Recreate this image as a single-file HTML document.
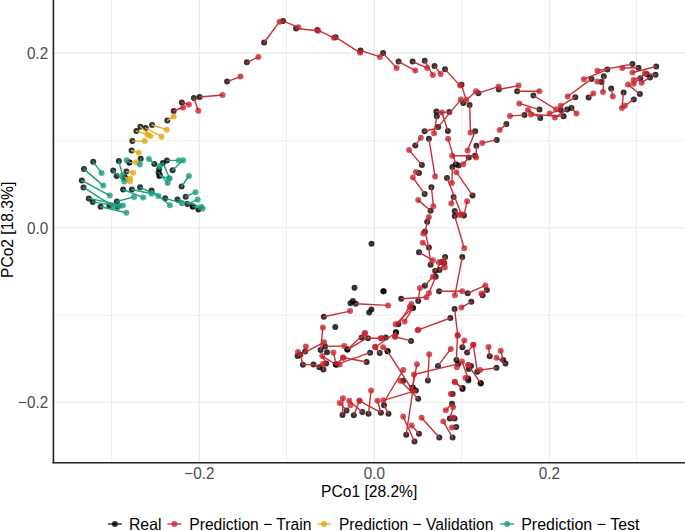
<!DOCTYPE html>
<html><head><meta charset="utf-8"><style>
html,body{margin:0;padding:0;background:#fff;}
svg{display:block;font-family:"Liberation Sans",sans-serif;}
.gm{stroke:#efefef;stroke-width:1;}
.gM{stroke:#e8e8e8;stroke-width:1.1;}
.tk{fill:#4d4d4d;font-size:15.3px;}
.tt{fill:#000;font-size:15.3px;}
.lg{fill:#000;font-size:15.3px;}
.ln line{stroke-width:1.4;stroke-linecap:round;}
</style></head><body>
<svg width="685" height="531" viewBox="0 0 685 531">
<rect width="685" height="531" fill="#fff"/>
<line x1="111.5" y1="0" x2="111.5" y2="462" class="gm"/><line x1="286.5" y1="0" x2="286.5" y2="462" class="gm"/><line x1="461.5" y1="0" x2="461.5" y2="462" class="gm"/><line x1="636.5" y1="0" x2="636.5" y2="462" class="gm"/><line x1="53" y1="140.7" x2="685" y2="140.7" class="gm"/><line x1="53" y1="315.4" x2="685" y2="315.4" class="gm"/><line x1="199.3" y1="0" x2="199.3" y2="462" class="gM"/><line x1="374.3" y1="0" x2="374.3" y2="462" class="gM"/><line x1="549.3" y1="0" x2="549.3" y2="462" class="gM"/><line x1="53" y1="53.1" x2="685" y2="53.1" class="gM"/><line x1="53" y1="227.8" x2="685" y2="227.8" class="gM"/><line x1="53" y1="402.3" x2="685" y2="402.3" class="gM"/>
<g class="pb"><circle cx="167.3" cy="120.4" r="3.0" fill="rgba(0,0,0,0.8)"/><circle cx="152.1" cy="125.0" r="3.0" fill="rgba(0,0,0,0.8)"/><circle cx="140.4" cy="126.8" r="3.0" fill="rgba(0,0,0,0.8)"/><circle cx="145.7" cy="128.0" r="3.0" fill="rgba(0,0,0,0.8)"/><circle cx="136.4" cy="131.1" r="3.0" fill="rgba(0,0,0,0.8)"/><circle cx="132.4" cy="141.1" r="3.0" fill="rgba(0,0,0,0.8)"/><circle cx="131.6" cy="150.5" r="3.0" fill="rgba(0,0,0,0.8)"/><circle cx="129.4" cy="162.6" r="3.0" fill="rgba(0,0,0,0.8)"/><circle cx="126.4" cy="171.6" r="3.0" fill="rgba(0,0,0,0.8)"/><circle cx="124.7" cy="177.4" r="3.0" fill="rgba(0,0,0,0.8)"/><circle cx="124.7" cy="177.4" r="3.0" fill="rgba(0,0,0,0.8)"/><circle cx="129.4" cy="162.6" r="3.0" fill="rgba(0,0,0,0.8)"/><circle cx="140.7" cy="158.7" r="3.0" fill="rgba(0,0,0,0.8)"/><circle cx="154.3" cy="164.1" r="3.0" fill="rgba(0,0,0,0.8)"/><circle cx="166.9" cy="160.4" r="3.0" fill="rgba(0,0,0,0.8)"/><circle cx="172.6" cy="170.2" r="3.0" fill="rgba(0,0,0,0.8)"/><circle cx="162.9" cy="162.9" r="3.0" fill="rgba(0,0,0,0.8)"/><circle cx="159.2" cy="169.0" r="3.0" fill="rgba(0,0,0,0.8)"/><circle cx="158.6" cy="172.6" r="3.0" fill="rgba(0,0,0,0.8)"/><circle cx="159.8" cy="175.1" r="3.0" fill="rgba(0,0,0,0.8)"/><circle cx="181.6" cy="186.5" r="3.0" fill="rgba(0,0,0,0.8)"/><circle cx="118.8" cy="161.1" r="3.0" fill="rgba(0,0,0,0.8)"/><circle cx="113.2" cy="170.5" r="3.0" fill="rgba(0,0,0,0.8)"/><circle cx="116.6" cy="176.1" r="3.0" fill="rgba(0,0,0,0.8)"/><circle cx="93.2" cy="161.8" r="3.0" fill="rgba(0,0,0,0.8)"/><circle cx="84.0" cy="169.1" r="3.0" fill="rgba(0,0,0,0.8)"/><circle cx="81.8" cy="180.4" r="3.0" fill="rgba(0,0,0,0.8)"/><circle cx="83.5" cy="187.4" r="3.0" fill="rgba(0,0,0,0.8)"/><circle cx="88.8" cy="198.4" r="3.0" fill="rgba(0,0,0,0.8)"/><circle cx="92.7" cy="201.9" r="3.0" fill="rgba(0,0,0,0.8)"/><circle cx="100.6" cy="206.7" r="3.0" fill="rgba(0,0,0,0.8)"/><circle cx="109.3" cy="205.8" r="3.0" fill="rgba(0,0,0,0.8)"/><circle cx="116.8" cy="201.5" r="3.0" fill="rgba(0,0,0,0.8)"/><circle cx="117.7" cy="206.7" r="3.0" fill="rgba(0,0,0,0.8)"/><circle cx="123.1" cy="189.5" r="3.0" fill="rgba(0,0,0,0.8)"/><circle cx="131.8" cy="189.5" r="3.0" fill="rgba(0,0,0,0.8)"/><circle cx="140.1" cy="187.3" r="3.0" fill="rgba(0,0,0,0.8)"/><circle cx="151.6" cy="190.5" r="3.0" fill="rgba(0,0,0,0.8)"/><circle cx="165.2" cy="198.3" r="3.0" fill="rgba(0,0,0,0.8)"/><circle cx="177.5" cy="199.6" r="3.0" fill="rgba(0,0,0,0.8)"/><circle cx="185.7" cy="196.8" r="3.0" fill="rgba(0,0,0,0.8)"/><circle cx="187.3" cy="203.9" r="3.0" fill="rgba(0,0,0,0.8)"/><circle cx="192.8" cy="206.6" r="3.0" fill="rgba(0,0,0,0.8)"/><circle cx="198.4" cy="209.4" r="3.0" fill="rgba(0,0,0,0.8)"/><circle cx="192.8" cy="206.6" r="3.0" fill="rgba(0,0,0,0.8)"/><circle cx="159.4" cy="175.9" r="3.0" fill="rgba(0,0,0,0.8)"/><circle cx="173.7" cy="111.0" r="3.0" fill="rgba(0,0,0,0.8)"/><circle cx="181.9" cy="102.6" r="3.0" fill="rgba(0,0,0,0.8)"/><circle cx="193.9" cy="97.9" r="3.0" fill="rgba(0,0,0,0.8)"/><circle cx="199.6" cy="97.0" r="3.0" fill="rgba(0,0,0,0.8)"/><circle cx="227.1" cy="81.6" r="3.0" fill="rgba(0,0,0,0.8)"/><circle cx="246.9" cy="62.3" r="3.0" fill="rgba(0,0,0,0.8)"/><circle cx="264.1" cy="42.5" r="3.0" fill="rgba(0,0,0,0.8)"/><circle cx="283.1" cy="20.9" r="3.0" fill="rgba(0,0,0,0.8)"/><circle cx="296.0" cy="28.5" r="3.0" fill="rgba(0,0,0,0.8)"/><circle cx="317.3" cy="29.9" r="3.0" fill="rgba(0,0,0,0.8)"/><circle cx="335.6" cy="37.2" r="3.0" fill="rgba(0,0,0,0.8)"/><circle cx="360.5" cy="50.4" r="3.0" fill="rgba(0,0,0,0.8)"/><circle cx="383.1" cy="53.1" r="3.0" fill="rgba(0,0,0,0.8)"/><circle cx="398.6" cy="61.6" r="3.0" fill="rgba(0,0,0,0.8)"/><circle cx="412.6" cy="61.6" r="3.0" fill="rgba(0,0,0,0.8)"/><circle cx="424.7" cy="60.8" r="3.0" fill="rgba(0,0,0,0.8)"/><circle cx="434.5" cy="65.9" r="3.0" fill="rgba(0,0,0,0.8)"/><circle cx="445.0" cy="69.2" r="3.0" fill="rgba(0,0,0,0.8)"/><circle cx="461.5" cy="84.8" r="3.0" fill="rgba(0,0,0,0.8)"/><circle cx="463.3" cy="103.0" r="3.0" fill="rgba(0,0,0,0.8)"/><circle cx="478.4" cy="93.2" r="3.0" fill="rgba(0,0,0,0.8)"/><circle cx="498.8" cy="89.5" r="3.0" fill="rgba(0,0,0,0.8)"/><circle cx="517.2" cy="91.3" r="3.0" fill="rgba(0,0,0,0.8)"/><circle cx="533.4" cy="95.5" r="3.0" fill="rgba(0,0,0,0.8)"/><circle cx="539.5" cy="109.6" r="3.0" fill="rgba(0,0,0,0.8)"/><circle cx="524.5" cy="115.1" r="3.0" fill="rgba(0,0,0,0.8)"/><circle cx="540.3" cy="118.0" r="3.0" fill="rgba(0,0,0,0.8)"/><circle cx="563.6" cy="116.3" r="3.0" fill="rgba(0,0,0,0.8)"/><circle cx="560.7" cy="109.9" r="3.0" fill="rgba(0,0,0,0.8)"/><circle cx="567.2" cy="109.6" r="3.0" fill="rgba(0,0,0,0.8)"/><circle cx="571.5" cy="108.1" r="3.0" fill="rgba(0,0,0,0.8)"/><circle cx="575.3" cy="97.2" r="3.0" fill="rgba(0,0,0,0.8)"/><circle cx="591.5" cy="78.9" r="3.0" fill="rgba(0,0,0,0.8)"/><circle cx="588.6" cy="97.6" r="3.0" fill="rgba(0,0,0,0.8)"/><circle cx="603.8" cy="76.3" r="3.0" fill="rgba(0,0,0,0.8)"/><circle cx="601.5" cy="81.9" r="3.0" fill="rgba(0,0,0,0.8)"/><circle cx="607.3" cy="69.6" r="3.0" fill="rgba(0,0,0,0.8)"/><circle cx="611.2" cy="88.6" r="3.0" fill="rgba(0,0,0,0.8)"/><circle cx="623.6" cy="92.4" r="3.0" fill="rgba(0,0,0,0.8)"/><circle cx="633.8" cy="99.4" r="3.0" fill="rgba(0,0,0,0.8)"/><circle cx="632.4" cy="64.1" r="3.0" fill="rgba(0,0,0,0.8)"/><circle cx="638.5" cy="67.7" r="3.0" fill="rgba(0,0,0,0.8)"/><circle cx="656.2" cy="66.5" r="3.0" fill="rgba(0,0,0,0.8)"/><circle cx="655.5" cy="74.8" r="3.0" fill="rgba(0,0,0,0.8)"/><circle cx="650.0" cy="77.4" r="3.0" fill="rgba(0,0,0,0.8)"/><circle cx="646.6" cy="74.0" r="3.0" fill="rgba(0,0,0,0.8)"/><circle cx="640.4" cy="78.2" r="3.0" fill="rgba(0,0,0,0.8)"/><circle cx="639.9" cy="94.0" r="3.0" fill="rgba(0,0,0,0.8)"/><circle cx="506.4" cy="124.1" r="3.0" fill="rgba(0,0,0,0.8)"/><circle cx="436.4" cy="111.4" r="3.0" fill="rgba(0,0,0,0.8)"/><circle cx="449.3" cy="111.9" r="3.0" fill="rgba(0,0,0,0.8)"/><circle cx="469.6" cy="104.9" r="3.0" fill="rgba(0,0,0,0.8)"/><circle cx="436.8" cy="116.2" r="3.0" fill="rgba(0,0,0,0.8)"/><circle cx="438.2" cy="126.9" r="3.0" fill="rgba(0,0,0,0.8)"/><circle cx="424.6" cy="131.2" r="3.0" fill="rgba(0,0,0,0.8)"/><circle cx="447.9" cy="130.9" r="3.0" fill="rgba(0,0,0,0.8)"/><circle cx="428.9" cy="138.8" r="3.0" fill="rgba(0,0,0,0.8)"/><circle cx="415.3" cy="145.6" r="3.0" fill="rgba(0,0,0,0.8)"/><circle cx="421.9" cy="165.1" r="3.0" fill="rgba(0,0,0,0.8)"/><circle cx="475.2" cy="131.2" r="3.0" fill="rgba(0,0,0,0.8)"/><circle cx="476.4" cy="145.8" r="3.0" fill="rgba(0,0,0,0.8)"/><circle cx="496.8" cy="140.0" r="3.0" fill="rgba(0,0,0,0.8)"/><circle cx="475.0" cy="155.8" r="3.0" fill="rgba(0,0,0,0.8)"/><circle cx="468.8" cy="157.5" r="3.0" fill="rgba(0,0,0,0.8)"/><circle cx="455.8" cy="164.3" r="3.0" fill="rgba(0,0,0,0.8)"/><circle cx="458.6" cy="165.4" r="3.0" fill="rgba(0,0,0,0.8)"/><circle cx="452.4" cy="167.1" r="3.0" fill="rgba(0,0,0,0.8)"/><circle cx="472.5" cy="195.4" r="3.0" fill="rgba(0,0,0,0.8)"/><circle cx="447.0" cy="177.9" r="3.0" fill="rgba(0,0,0,0.8)"/><circle cx="453.6" cy="197.1" r="3.0" fill="rgba(0,0,0,0.8)"/><circle cx="419.0" cy="173.0" r="3.0" fill="rgba(0,0,0,0.8)"/><circle cx="424.6" cy="193.9" r="3.0" fill="rgba(0,0,0,0.8)"/><circle cx="431.4" cy="187.3" r="3.0" fill="rgba(0,0,0,0.8)"/><circle cx="430.6" cy="210.8" r="3.0" fill="rgba(0,0,0,0.8)"/><circle cx="454.7" cy="210.9" r="3.0" fill="rgba(0,0,0,0.8)"/><circle cx="454.7" cy="216.0" r="3.0" fill="rgba(0,0,0,0.8)"/><circle cx="464.0" cy="215.4" r="3.0" fill="rgba(0,0,0,0.8)"/><circle cx="427.2" cy="221.8" r="3.0" fill="rgba(0,0,0,0.8)"/><circle cx="424.9" cy="231.7" r="3.0" fill="rgba(0,0,0,0.8)"/><circle cx="428.9" cy="247.5" r="3.0" fill="rgba(0,0,0,0.8)"/><circle cx="419.0" cy="252.3" r="3.0" fill="rgba(0,0,0,0.8)"/><circle cx="430.6" cy="264.7" r="3.0" fill="rgba(0,0,0,0.8)"/><circle cx="445.1" cy="256.9" r="3.0" fill="rgba(0,0,0,0.8)"/><circle cx="441.6" cy="262.1" r="3.0" fill="rgba(0,0,0,0.8)"/><circle cx="444.2" cy="263.1" r="3.0" fill="rgba(0,0,0,0.8)"/><circle cx="435.2" cy="271.0" r="3.0" fill="rgba(0,0,0,0.8)"/><circle cx="439.5" cy="270.1" r="3.0" fill="rgba(0,0,0,0.8)"/><circle cx="462.3" cy="256.9" r="3.0" fill="rgba(0,0,0,0.8)"/><circle cx="439.1" cy="291.3" r="3.0" fill="rgba(0,0,0,0.8)"/><circle cx="467.7" cy="293.3" r="3.0" fill="rgba(0,0,0,0.8)"/><circle cx="486.9" cy="289.9" r="3.0" fill="rgba(0,0,0,0.8)"/><circle cx="482.6" cy="295.2" r="3.0" fill="rgba(0,0,0,0.8)"/><circle cx="424.9" cy="285.8" r="3.0" fill="rgba(0,0,0,0.8)"/><circle cx="435.7" cy="276.8" r="3.0" fill="rgba(0,0,0,0.8)"/><circle cx="401.2" cy="298.8" r="3.0" fill="rgba(0,0,0,0.8)"/><circle cx="418.2" cy="301.1" r="3.0" fill="rgba(0,0,0,0.8)"/><circle cx="412.5" cy="307.8" r="3.0" fill="rgba(0,0,0,0.8)"/><circle cx="398.4" cy="324.2" r="3.0" fill="rgba(0,0,0,0.8)"/><circle cx="413.1" cy="307.9" r="3.0" fill="rgba(0,0,0,0.8)"/><circle cx="450.4" cy="318.0" r="3.0" fill="rgba(0,0,0,0.8)"/><circle cx="454.6" cy="309.1" r="3.0" fill="rgba(0,0,0,0.8)"/><circle cx="471.3" cy="301.8" r="3.0" fill="rgba(0,0,0,0.8)"/><circle cx="371.5" cy="243.8" r="3.0" fill="rgba(0,0,0,0.8)"/><circle cx="354.5" cy="287.8" r="3.0" fill="rgba(0,0,0,0.8)"/><circle cx="383.5" cy="291.3" r="3.0" fill="rgba(0,0,0,0.8)"/><circle cx="383.5" cy="291.3" r="3.0" fill="rgba(0,0,0,0.8)"/><circle cx="352.9" cy="300.9" r="3.0" fill="rgba(0,0,0,0.8)"/><circle cx="350.5" cy="303.2" r="3.0" fill="rgba(0,0,0,0.8)"/><circle cx="355.8" cy="303.7" r="3.0" fill="rgba(0,0,0,0.8)"/><circle cx="371.4" cy="309.6" r="3.0" fill="rgba(0,0,0,0.8)"/><circle cx="369.2" cy="312.6" r="3.0" fill="rgba(0,0,0,0.8)"/><circle cx="323.8" cy="316.7" r="3.0" fill="rgba(0,0,0,0.8)"/><circle cx="335.3" cy="327.0" r="3.0" fill="rgba(0,0,0,0.8)"/><circle cx="320.6" cy="350.1" r="3.0" fill="rgba(0,0,0,0.8)"/><circle cx="297.5" cy="356.1" r="3.0" fill="rgba(0,0,0,0.8)"/><circle cx="325.1" cy="346.5" r="3.0" fill="rgba(0,0,0,0.8)"/><circle cx="305.2" cy="351.5" r="3.0" fill="rgba(0,0,0,0.8)"/><circle cx="300.3" cy="354.8" r="3.0" fill="rgba(0,0,0,0.8)"/><circle cx="302.9" cy="364.8" r="3.0" fill="rgba(0,0,0,0.8)"/><circle cx="313.5" cy="364.6" r="3.0" fill="rgba(0,0,0,0.8)"/><circle cx="319.4" cy="367.3" r="3.0" fill="rgba(0,0,0,0.8)"/><circle cx="323.4" cy="369.6" r="3.0" fill="rgba(0,0,0,0.8)"/><circle cx="326.2" cy="363.4" r="3.0" fill="rgba(0,0,0,0.8)"/><circle cx="327.0" cy="352.3" r="3.0" fill="rgba(0,0,0,0.8)"/><circle cx="335.8" cy="364.5" r="3.0" fill="rgba(0,0,0,0.8)"/><circle cx="336.2" cy="364.6" r="3.0" fill="rgba(0,0,0,0.8)"/><circle cx="336.2" cy="364.6" r="3.0" fill="rgba(0,0,0,0.8)"/><circle cx="366.7" cy="362.0" r="3.0" fill="rgba(0,0,0,0.8)"/><circle cx="347.5" cy="349.6" r="3.0" fill="rgba(0,0,0,0.8)"/><circle cx="347.3" cy="349.5" r="3.0" fill="rgba(0,0,0,0.8)"/><circle cx="379.7" cy="353.0" r="3.0" fill="rgba(0,0,0,0.8)"/><circle cx="387.6" cy="351.3" r="3.0" fill="rgba(0,0,0,0.8)"/><circle cx="387.6" cy="351.3" r="3.0" fill="rgba(0,0,0,0.8)"/><circle cx="370.1" cy="352.7" r="3.0" fill="rgba(0,0,0,0.8)"/><circle cx="361.7" cy="337.6" r="3.0" fill="rgba(0,0,0,0.8)"/><circle cx="368.0" cy="338.2" r="3.0" fill="rgba(0,0,0,0.8)"/><circle cx="385.8" cy="337.4" r="3.0" fill="rgba(0,0,0,0.8)"/><circle cx="411.0" cy="340.9" r="3.0" fill="rgba(0,0,0,0.8)"/><circle cx="396.0" cy="332.5" r="3.0" fill="rgba(0,0,0,0.8)"/><circle cx="395.9" cy="332.2" r="3.0" fill="rgba(0,0,0,0.8)"/><circle cx="342.5" cy="414.9" r="3.0" fill="rgba(0,0,0,0.8)"/><circle cx="346.5" cy="410.4" r="3.0" fill="rgba(0,0,0,0.8)"/><circle cx="353.8" cy="415.3" r="3.0" fill="rgba(0,0,0,0.8)"/><circle cx="362.3" cy="412.1" r="3.0" fill="rgba(0,0,0,0.8)"/><circle cx="368.5" cy="413.8" r="3.0" fill="rgba(0,0,0,0.8)"/><circle cx="380.9" cy="412.7" r="3.0" fill="rgba(0,0,0,0.8)"/><circle cx="388.5" cy="413.8" r="3.0" fill="rgba(0,0,0,0.8)"/><circle cx="384.0" cy="405.3" r="3.0" fill="rgba(0,0,0,0.8)"/><circle cx="415.9" cy="390.6" r="3.0" fill="rgba(0,0,0,0.8)"/><circle cx="418.2" cy="398.8" r="3.0" fill="rgba(0,0,0,0.8)"/><circle cx="403.2" cy="380.8" r="3.0" fill="rgba(0,0,0,0.8)"/><circle cx="406.2" cy="434.7" r="3.0" fill="rgba(0,0,0,0.8)"/><circle cx="414.5" cy="441.5" r="3.0" fill="rgba(0,0,0,0.8)"/><circle cx="419.0" cy="433.8" r="3.0" fill="rgba(0,0,0,0.8)"/><circle cx="439.3" cy="437.5" r="3.0" fill="rgba(0,0,0,0.8)"/><circle cx="412.3" cy="388.1" r="3.0" fill="rgba(0,0,0,0.8)"/><circle cx="412.9" cy="387.5" r="3.0" fill="rgba(0,0,0,0.8)"/><circle cx="427.9" cy="380.4" r="3.0" fill="rgba(0,0,0,0.8)"/><circle cx="438.0" cy="365.9" r="3.0" fill="rgba(0,0,0,0.8)"/><circle cx="458.1" cy="363.9" r="3.0" fill="rgba(0,0,0,0.8)"/><circle cx="456.4" cy="359.9" r="3.0" fill="rgba(0,0,0,0.8)"/><circle cx="462.4" cy="347.2" r="3.0" fill="rgba(0,0,0,0.8)"/><circle cx="467.1" cy="352.6" r="3.0" fill="rgba(0,0,0,0.8)"/><circle cx="477.3" cy="371.8" r="3.0" fill="rgba(0,0,0,0.8)"/><circle cx="480.6" cy="383.1" r="3.0" fill="rgba(0,0,0,0.8)"/><circle cx="468.2" cy="378.5" r="3.0" fill="rgba(0,0,0,0.8)"/><circle cx="471.0" cy="366.1" r="3.0" fill="rgba(0,0,0,0.8)"/><circle cx="468.8" cy="369.0" r="3.0" fill="rgba(0,0,0,0.8)"/><circle cx="496.5" cy="367.8" r="3.0" fill="rgba(0,0,0,0.8)"/><circle cx="489.7" cy="356.2" r="3.0" fill="rgba(0,0,0,0.8)"/><circle cx="503.2" cy="359.9" r="3.0" fill="rgba(0,0,0,0.8)"/><circle cx="505.5" cy="363.6" r="3.0" fill="rgba(0,0,0,0.8)"/><circle cx="462.6" cy="388.1" r="3.0" fill="rgba(0,0,0,0.8)"/><circle cx="462.5" cy="389.0" r="3.0" fill="rgba(0,0,0,0.8)"/><circle cx="468.4" cy="380.6" r="3.0" fill="rgba(0,0,0,0.8)"/><circle cx="480.8" cy="383.4" r="3.0" fill="rgba(0,0,0,0.8)"/><circle cx="452.6" cy="394.1" r="3.0" fill="rgba(0,0,0,0.8)"/><circle cx="452.0" cy="403.7" r="3.0" fill="rgba(0,0,0,0.8)"/><circle cx="449.8" cy="418.6" r="3.0" fill="rgba(0,0,0,0.8)"/><circle cx="454.6" cy="418.6" r="3.0" fill="rgba(0,0,0,0.8)"/><circle cx="456.2" cy="426.9" r="3.0" fill="rgba(0,0,0,0.8)"/><circle cx="452.6" cy="437.6" r="3.0" fill="rgba(0,0,0,0.8)"/></g>
<g class="ln"><line x1="167.3" y1="120.4" x2="173.7" y2="116.6" stroke="#e3ad1c"/><line x1="152.1" y1="125.0" x2="166.7" y2="129.7" stroke="#e3ad1c"/><line x1="140.4" y1="126.8" x2="150.4" y2="136.1" stroke="#e3ad1c"/><line x1="145.7" y1="128.0" x2="161.5" y2="136.7" stroke="#e3ad1c"/><line x1="136.4" y1="131.1" x2="147.4" y2="134.4" stroke="#e3ad1c"/><line x1="132.4" y1="141.1" x2="144.8" y2="141.1" stroke="#e3ad1c"/><line x1="131.6" y1="150.5" x2="138.8" y2="152.8" stroke="#e3ad1c"/><line x1="129.4" y1="162.6" x2="136.1" y2="162.2" stroke="#e3ad1c"/><line x1="126.4" y1="171.6" x2="133.1" y2="172.8" stroke="#e3ad1c"/><line x1="124.7" y1="177.4" x2="130.1" y2="178.4" stroke="#e3ad1c"/><line x1="124.7" y1="177.4" x2="129.9" y2="181.6" stroke="#e3ad1c"/><line x1="129.4" y1="162.6" x2="126.7" y2="160.2" stroke="#1a9e7e"/><line x1="140.7" y1="158.7" x2="139.9" y2="164.5" stroke="#1a9e7e"/><line x1="154.3" y1="164.1" x2="148.9" y2="159.0" stroke="#1a9e7e"/><line x1="166.9" y1="160.4" x2="178.8" y2="160.4" stroke="#1a9e7e"/><line x1="172.6" y1="170.2" x2="183.1" y2="160.2" stroke="#1a9e7e"/><line x1="162.9" y1="162.9" x2="169.6" y2="178.2" stroke="#1a9e7e"/><line x1="159.2" y1="169.0" x2="159.8" y2="165.9" stroke="#1a9e7e"/><line x1="158.6" y1="172.6" x2="167.7" y2="183.0" stroke="#1a9e7e"/><line x1="181.6" y1="186.5" x2="188.9" y2="176.0" stroke="#1a9e7e"/><line x1="118.8" y1="161.1" x2="122.6" y2="175.4" stroke="#1a9e7e"/><line x1="113.2" y1="170.5" x2="124.2" y2="181.5" stroke="#1a9e7e"/><line x1="93.2" y1="161.8" x2="101.5" y2="172.9" stroke="#1a9e7e"/><line x1="84.0" y1="169.1" x2="103.3" y2="185.6" stroke="#1a9e7e"/><line x1="81.8" y1="180.4" x2="109.8" y2="195.6" stroke="#1a9e7e"/><line x1="83.5" y1="187.4" x2="113.3" y2="206.3" stroke="#1a9e7e"/><line x1="88.8" y1="198.4" x2="122.9" y2="205.4" stroke="#1a9e7e"/><line x1="92.7" y1="201.9" x2="119.0" y2="206.0" stroke="#1a9e7e"/><line x1="100.6" y1="206.7" x2="126.4" y2="212.7" stroke="#1a9e7e"/><line x1="116.8" y1="201.5" x2="134.0" y2="196.9" stroke="#1a9e7e"/><line x1="123.1" y1="189.5" x2="143.2" y2="197.6" stroke="#1a9e7e"/><line x1="131.8" y1="189.5" x2="151.5" y2="193.8" stroke="#1a9e7e"/><line x1="140.1" y1="187.3" x2="158.5" y2="196.0" stroke="#1a9e7e"/><line x1="151.6" y1="190.5" x2="169.9" y2="205.2" stroke="#1a9e7e"/><line x1="165.2" y1="198.3" x2="181.8" y2="203.2" stroke="#1a9e7e"/><line x1="177.5" y1="199.6" x2="201.4" y2="206.9" stroke="#1a9e7e"/><line x1="185.7" y1="196.8" x2="195.5" y2="192.2" stroke="#1a9e7e"/><line x1="187.3" y1="203.9" x2="197.7" y2="199.6" stroke="#1a9e7e"/><line x1="192.8" y1="206.6" x2="202.6" y2="208.5" stroke="#1a9e7e"/><line x1="159.4" y1="175.9" x2="169.0" y2="178.5" stroke="#1a9e7e"/><line x1="173.7" y1="111.0" x2="183.1" y2="107.5" stroke="#c82f36"/><line x1="181.9" y1="102.6" x2="188.9" y2="104.6" stroke="#c82f36"/><line x1="193.9" y1="97.9" x2="198.3" y2="110.7" stroke="#c82f36"/><line x1="199.6" y1="97.0" x2="222.5" y2="95.0" stroke="#c82f36"/><line x1="227.1" y1="81.6" x2="240.5" y2="76.6" stroke="#c82f36"/><line x1="246.9" y1="62.3" x2="258.4" y2="57.1" stroke="#c82f36"/><line x1="264.1" y1="42.5" x2="279.6" y2="21.7" stroke="#c82f36"/><line x1="283.1" y1="20.9" x2="298.3" y2="27.3" stroke="#c82f36"/><line x1="296.0" y1="28.5" x2="318.1" y2="30.8" stroke="#c82f36"/><line x1="317.3" y1="29.9" x2="333.9" y2="37.8" stroke="#c82f36"/><line x1="335.6" y1="37.2" x2="360.1" y2="52.8" stroke="#c82f36"/><line x1="360.5" y1="50.4" x2="379.9" y2="56.9" stroke="#c82f36"/><line x1="383.1" y1="53.1" x2="396.6" y2="68.0" stroke="#c82f36"/><line x1="398.6" y1="61.6" x2="415.3" y2="70.6" stroke="#c82f36"/><line x1="412.6" y1="61.6" x2="427.2" y2="68.0" stroke="#c82f36"/><line x1="424.7" y1="60.8" x2="432.8" y2="75.0" stroke="#c82f36"/><line x1="434.5" y1="65.9" x2="440.6" y2="73.9" stroke="#c82f36"/><line x1="445.0" y1="69.2" x2="460.1" y2="85.6" stroke="#c82f36"/><line x1="461.5" y1="84.8" x2="466.2" y2="100.0" stroke="#c82f36"/><line x1="463.3" y1="103.0" x2="476.0" y2="91.3" stroke="#c82f36"/><line x1="478.4" y1="93.2" x2="498.5" y2="86.6" stroke="#c82f36"/><line x1="498.8" y1="89.5" x2="518.6" y2="85.6" stroke="#c82f36"/><line x1="517.2" y1="91.3" x2="539.4" y2="91.3" stroke="#c82f36"/><line x1="533.4" y1="95.5" x2="556.1" y2="109.3" stroke="#c82f36"/><line x1="539.5" y1="109.6" x2="519.3" y2="103.4" stroke="#c82f36"/><line x1="524.5" y1="115.1" x2="509.9" y2="115.9" stroke="#c82f36"/><line x1="540.3" y1="118.0" x2="528.0" y2="110.1" stroke="#c82f36"/><line x1="563.6" y1="116.3" x2="531.0" y2="114.5" stroke="#c82f36"/><line x1="560.7" y1="109.9" x2="549.6" y2="113.4" stroke="#c82f36"/><line x1="567.2" y1="109.6" x2="554.9" y2="117.4" stroke="#c82f36"/><line x1="571.5" y1="108.1" x2="576.5" y2="113.4" stroke="#c82f36"/><line x1="575.3" y1="97.2" x2="560.7" y2="105.8" stroke="#c82f36"/><line x1="591.5" y1="78.9" x2="567.6" y2="96.5" stroke="#c82f36"/><line x1="588.6" y1="97.6" x2="593.3" y2="93.5" stroke="#c82f36"/><line x1="603.8" y1="76.3" x2="603.0" y2="92.1" stroke="#c82f36"/><line x1="601.5" y1="81.9" x2="597.4" y2="81.6" stroke="#c82f36"/><line x1="607.3" y1="69.6" x2="583.9" y2="79.2" stroke="#c82f36"/><line x1="611.2" y1="88.6" x2="612.8" y2="96.5" stroke="#c82f36"/><line x1="623.6" y1="92.4" x2="621.9" y2="108.1" stroke="#c82f36"/><line x1="633.8" y1="99.4" x2="624.8" y2="105.8" stroke="#c82f36"/><line x1="632.4" y1="64.1" x2="597.4" y2="70.8" stroke="#c82f36"/><line x1="638.5" y1="67.7" x2="622.3" y2="68.0" stroke="#c82f36"/><line x1="656.2" y1="66.5" x2="632.5" y2="72.5" stroke="#c82f36"/><line x1="655.5" y1="74.8" x2="645.0" y2="73.3" stroke="#c82f36"/><line x1="650.0" y1="77.4" x2="641.6" y2="82.7" stroke="#c82f36"/><line x1="646.6" y1="74.0" x2="633.6" y2="79.9" stroke="#c82f36"/><line x1="640.4" y1="78.2" x2="633.6" y2="83.8" stroke="#c82f36"/><line x1="639.9" y1="94.0" x2="628.0" y2="84.6" stroke="#c82f36"/><line x1="506.4" y1="124.1" x2="499.7" y2="130.0" stroke="#c82f36"/><line x1="436.4" y1="111.4" x2="441.9" y2="112.5" stroke="#c82f36"/><line x1="449.3" y1="111.9" x2="441.9" y2="112.5" stroke="#c82f36"/><line x1="469.6" y1="104.9" x2="470.5" y2="132.4" stroke="#c82f36"/><line x1="436.8" y1="116.2" x2="434.0" y2="133.2" stroke="#c82f36"/><line x1="438.2" y1="126.9" x2="460.8" y2="99.6" stroke="#c82f36"/><line x1="424.6" y1="131.2" x2="438.0" y2="128.0" stroke="#c82f36"/><line x1="447.9" y1="130.9" x2="441.9" y2="112.5" stroke="#c82f36"/><line x1="428.9" y1="138.8" x2="435.1" y2="176.4" stroke="#c82f36"/><line x1="415.3" y1="145.6" x2="420.8" y2="137.7" stroke="#c82f36"/><line x1="421.9" y1="165.1" x2="409.1" y2="150.1" stroke="#c82f36"/><line x1="475.2" y1="131.2" x2="467.6" y2="150.5" stroke="#c82f36"/><line x1="476.4" y1="145.8" x2="476.2" y2="157.5" stroke="#c82f36"/><line x1="496.8" y1="140.0" x2="482.2" y2="142.9" stroke="#c82f36"/><line x1="475.0" y1="155.8" x2="452.2" y2="155.8" stroke="#c82f36"/><line x1="468.8" y1="157.5" x2="463.2" y2="164.3" stroke="#c82f36"/><line x1="455.8" y1="164.3" x2="448.1" y2="138.8" stroke="#c82f36"/><line x1="452.4" y1="167.1" x2="451.9" y2="182.9" stroke="#c82f36"/><line x1="472.5" y1="195.4" x2="456.4" y2="172.2" stroke="#c82f36"/><line x1="447.0" y1="177.9" x2="461.5" y2="214.3" stroke="#c82f36"/><line x1="453.6" y1="197.1" x2="451.3" y2="203.6" stroke="#c82f36"/><line x1="419.0" y1="173.0" x2="415.9" y2="171.9" stroke="#c82f36"/><line x1="424.6" y1="193.9" x2="412.9" y2="177.5" stroke="#c82f36"/><line x1="431.4" y1="187.3" x2="433.4" y2="206.3" stroke="#c82f36"/><line x1="430.6" y1="210.8" x2="418.2" y2="200.1" stroke="#c82f36"/><line x1="454.7" y1="210.9" x2="459.8" y2="214.9" stroke="#c82f36"/><line x1="454.7" y1="216.0" x2="464.3" y2="248.2" stroke="#c82f36"/><line x1="464.0" y1="215.4" x2="467.1" y2="201.3" stroke="#c82f36"/><line x1="427.2" y1="221.8" x2="428.9" y2="217.0" stroke="#c82f36"/><line x1="428.9" y1="217.0" x2="424.9" y2="231.7" stroke="#c82f36"/><line x1="424.9" y1="231.7" x2="428.9" y2="247.5" stroke="#c82f36"/><line x1="424.9" y1="231.7" x2="423.2" y2="233.6" stroke="#c82f36"/><line x1="428.9" y1="247.5" x2="422.7" y2="242.7" stroke="#c82f36"/><line x1="419.0" y1="252.3" x2="432.9" y2="260.2" stroke="#c82f36"/><line x1="430.6" y1="264.7" x2="428.9" y2="247.5" stroke="#c82f36"/><line x1="445.1" y1="256.9" x2="444.5" y2="263.3" stroke="#c82f36"/><line x1="441.6" y1="262.1" x2="438.9" y2="262.3" stroke="#c82f36"/><line x1="444.2" y1="263.1" x2="444.8" y2="267.4" stroke="#c82f36"/><line x1="435.2" y1="271.0" x2="445.1" y2="256.9" stroke="#c82f36"/><line x1="439.5" y1="270.1" x2="444.2" y2="263.1" stroke="#c82f36"/><line x1="462.3" y1="256.9" x2="454.9" y2="295.2" stroke="#c82f36"/><line x1="439.1" y1="291.3" x2="462.3" y2="291.3" stroke="#c82f36"/><line x1="467.7" y1="293.3" x2="485.4" y2="285.4" stroke="#c82f36"/><line x1="486.9" y1="289.9" x2="481.5" y2="293.5" stroke="#c82f36"/><line x1="424.9" y1="285.8" x2="432.9" y2="276.8" stroke="#c82f36"/><line x1="435.7" y1="276.8" x2="428.9" y2="293.2" stroke="#c82f36"/><line x1="401.2" y1="298.8" x2="426.4" y2="297.3" stroke="#c82f36"/><line x1="418.2" y1="301.1" x2="419.9" y2="287.9" stroke="#c82f36"/><line x1="412.5" y1="307.8" x2="395.6" y2="324.2" stroke="#c82f36"/><line x1="398.4" y1="324.2" x2="411.4" y2="303.9" stroke="#c82f36"/><line x1="413.1" y1="307.9" x2="404.6" y2="321.4" stroke="#c82f36"/><line x1="450.4" y1="318.0" x2="418.4" y2="329.8" stroke="#c82f36"/><line x1="454.6" y1="309.1" x2="457.8" y2="335.7" stroke="#c82f36"/><line x1="471.3" y1="301.8" x2="461.4" y2="307.4" stroke="#c82f36"/><line x1="355.8" y1="303.7" x2="388.2" y2="305.4" stroke="#c82f36"/><line x1="323.8" y1="316.7" x2="350.1" y2="311.1" stroke="#c82f36"/><line x1="320.6" y1="350.1" x2="322.9" y2="327.5" stroke="#c82f36"/><line x1="297.5" y1="356.1" x2="324.0" y2="342.3" stroke="#c82f36"/><line x1="325.1" y1="346.5" x2="344.3" y2="345.9" stroke="#c82f36"/><line x1="305.2" y1="351.5" x2="305.9" y2="346.6" stroke="#c82f36"/><line x1="300.3" y1="354.8" x2="298.0" y2="351.9" stroke="#c82f36"/><line x1="302.9" y1="364.8" x2="300.3" y2="354.8" stroke="#c82f36"/><line x1="313.5" y1="364.6" x2="302.9" y2="364.6" stroke="#c82f36"/><line x1="319.4" y1="367.3" x2="313.5" y2="364.6" stroke="#c82f36"/><line x1="322.3" y1="356.1" x2="335.8" y2="364.5" stroke="#c82f36"/><line x1="323.4" y1="369.6" x2="322.9" y2="364.0" stroke="#c82f36"/><line x1="326.2" y1="363.4" x2="322.3" y2="356.1" stroke="#c82f36"/><line x1="335.8" y1="364.5" x2="343.2" y2="357.8" stroke="#c82f36"/><line x1="336.2" y1="364.6" x2="333.4" y2="352.4" stroke="#c82f36"/><line x1="336.2" y1="364.6" x2="370.1" y2="352.7" stroke="#c82f36"/><line x1="366.7" y1="362.0" x2="343.0" y2="357.5" stroke="#c82f36"/><line x1="347.5" y1="349.6" x2="368.5" y2="337.1" stroke="#c82f36"/><line x1="347.3" y1="349.5" x2="364.6" y2="333.4" stroke="#c82f36"/><line x1="379.7" y1="353.0" x2="375.2" y2="346.8" stroke="#c82f36"/><line x1="387.6" y1="351.3" x2="383.1" y2="347.3" stroke="#c82f36"/><line x1="387.6" y1="351.3" x2="413.4" y2="391.5" stroke="#c82f36"/><line x1="361.7" y1="337.6" x2="365.1" y2="333.1" stroke="#c82f36"/><line x1="368.0" y1="338.2" x2="381.2" y2="338.2" stroke="#c82f36"/><line x1="385.8" y1="337.4" x2="380.9" y2="338.2" stroke="#c82f36"/><line x1="411.0" y1="340.9" x2="395.1" y2="336.7" stroke="#c82f36"/><line x1="396.0" y1="332.5" x2="375.2" y2="347.2" stroke="#c82f36"/><line x1="395.9" y1="332.2" x2="395.0" y2="336.5" stroke="#c82f36"/><line x1="342.5" y1="414.9" x2="342.9" y2="398.3" stroke="#c82f36"/><line x1="346.5" y1="410.4" x2="339.7" y2="402.9" stroke="#c82f36"/><line x1="353.8" y1="415.3" x2="359.5" y2="400.8" stroke="#c82f36"/><line x1="362.3" y1="412.1" x2="349.3" y2="400.8" stroke="#c82f36"/><line x1="368.5" y1="413.8" x2="371.1" y2="390.4" stroke="#c82f36"/><line x1="380.9" y1="412.7" x2="359.5" y2="400.8" stroke="#c82f36"/><line x1="381.0" y1="412.7" x2="377.5" y2="400.8" stroke="#c82f36"/><line x1="388.5" y1="413.8" x2="384.0" y2="405.3" stroke="#c82f36"/><line x1="415.9" y1="390.6" x2="383.4" y2="400.3" stroke="#c82f36"/><line x1="384.0" y1="402.0" x2="403.2" y2="370.0" stroke="#c82f36"/><line x1="418.2" y1="398.8" x2="400.4" y2="380.8" stroke="#c82f36"/><line x1="406.2" y1="434.7" x2="412.8" y2="391.0" stroke="#c82f36"/><line x1="414.5" y1="441.5" x2="403.2" y2="416.6" stroke="#c82f36"/><line x1="419.0" y1="433.8" x2="411.6" y2="425.5" stroke="#c82f36"/><line x1="439.3" y1="437.5" x2="421.6" y2="417.8" stroke="#c82f36"/><line x1="412.3" y1="388.1" x2="417.0" y2="364.2" stroke="#c82f36"/><line x1="412.9" y1="387.5" x2="414.0" y2="374.5" stroke="#c82f36"/><line x1="427.9" y1="380.4" x2="429.2" y2="354.2" stroke="#c82f36"/><line x1="438.0" y1="365.9" x2="450.8" y2="348.9" stroke="#c82f36"/><line x1="458.1" y1="363.9" x2="414.0" y2="374.5" stroke="#c82f36"/><line x1="456.4" y1="359.9" x2="457.5" y2="335.1" stroke="#c82f36"/><line x1="462.4" y1="347.2" x2="464.3" y2="340.4" stroke="#c82f36"/><line x1="467.1" y1="352.6" x2="473.3" y2="344.7" stroke="#c82f36"/><line x1="477.3" y1="371.8" x2="473.3" y2="344.7" stroke="#c82f36"/><line x1="480.6" y1="383.1" x2="468.2" y2="365.0" stroke="#c82f36"/><line x1="468.2" y1="378.5" x2="462.0" y2="361.6" stroke="#c82f36"/><line x1="471.0" y1="366.1" x2="468.2" y2="365.0" stroke="#c82f36"/><line x1="496.5" y1="367.8" x2="480.1" y2="370.1" stroke="#c82f36"/><line x1="489.7" y1="356.2" x2="488.5" y2="346.9" stroke="#c82f36"/><line x1="503.2" y1="359.9" x2="500.7" y2="350.7" stroke="#c82f36"/><line x1="505.5" y1="363.6" x2="496.5" y2="357.7" stroke="#c82f36"/><line x1="462.6" y1="388.1" x2="454.7" y2="381.7" stroke="#c82f36"/><line x1="462.5" y1="389.0" x2="454.9" y2="382.0" stroke="#c82f36"/><line x1="452.6" y1="394.1" x2="450.9" y2="394.1" stroke="#c82f36"/><line x1="452.0" y1="403.7" x2="445.8" y2="410.3" stroke="#c82f36"/><line x1="449.8" y1="418.6" x2="453.2" y2="407.1" stroke="#c82f36"/><line x1="454.6" y1="418.6" x2="453.0" y2="417.5" stroke="#c82f36"/><line x1="456.2" y1="426.9" x2="452.0" y2="427.5" stroke="#c82f36"/><line x1="452.6" y1="437.6" x2="443.3" y2="421.6" stroke="#c82f36"/></g>
<g class="pd"><circle cx="173.7" cy="116.6" r="3.0" fill="rgba(227,173,28,0.85)"/><circle cx="166.7" cy="129.7" r="3.0" fill="rgba(227,173,28,0.85)"/><circle cx="150.4" cy="136.1" r="3.0" fill="rgba(227,173,28,0.85)"/><circle cx="161.5" cy="136.7" r="3.0" fill="rgba(227,173,28,0.85)"/><circle cx="147.4" cy="134.4" r="3.0" fill="rgba(227,173,28,0.85)"/><circle cx="144.8" cy="141.1" r="3.0" fill="rgba(227,173,28,0.85)"/><circle cx="138.8" cy="152.8" r="3.0" fill="rgba(227,173,28,0.85)"/><circle cx="136.1" cy="162.2" r="3.0" fill="rgba(227,173,28,0.85)"/><circle cx="133.1" cy="172.8" r="3.0" fill="rgba(227,173,28,0.85)"/><circle cx="130.1" cy="178.4" r="3.0" fill="rgba(227,173,28,0.85)"/><circle cx="129.9" cy="181.6" r="3.0" fill="rgba(227,173,28,0.85)"/><circle cx="126.7" cy="160.2" r="3.0" fill="rgba(26,158,126,0.8)"/><circle cx="139.9" cy="164.5" r="3.0" fill="rgba(26,158,126,0.8)"/><circle cx="148.9" cy="159.0" r="3.0" fill="rgba(26,158,126,0.8)"/><circle cx="178.8" cy="160.4" r="3.0" fill="rgba(26,158,126,0.8)"/><circle cx="183.1" cy="160.2" r="3.0" fill="rgba(26,158,126,0.8)"/><circle cx="169.6" cy="178.2" r="3.0" fill="rgba(26,158,126,0.8)"/><circle cx="159.8" cy="165.9" r="3.0" fill="rgba(26,158,126,0.8)"/><circle cx="167.7" cy="183.0" r="3.0" fill="rgba(26,158,126,0.8)"/><circle cx="188.9" cy="176.0" r="3.0" fill="rgba(26,158,126,0.8)"/><circle cx="122.6" cy="175.4" r="3.0" fill="rgba(26,158,126,0.8)"/><circle cx="124.2" cy="181.5" r="3.0" fill="rgba(26,158,126,0.8)"/><circle cx="101.5" cy="172.9" r="3.0" fill="rgba(26,158,126,0.8)"/><circle cx="103.3" cy="185.6" r="3.0" fill="rgba(26,158,126,0.8)"/><circle cx="109.8" cy="195.6" r="3.0" fill="rgba(26,158,126,0.8)"/><circle cx="113.3" cy="206.3" r="3.0" fill="rgba(26,158,126,0.8)"/><circle cx="122.9" cy="205.4" r="3.0" fill="rgba(26,158,126,0.8)"/><circle cx="119.0" cy="206.0" r="3.0" fill="rgba(26,158,126,0.8)"/><circle cx="126.4" cy="212.7" r="3.0" fill="rgba(26,158,126,0.8)"/><circle cx="134.0" cy="196.9" r="3.0" fill="rgba(26,158,126,0.8)"/><circle cx="143.2" cy="197.6" r="3.0" fill="rgba(26,158,126,0.8)"/><circle cx="151.5" cy="193.8" r="3.0" fill="rgba(26,158,126,0.8)"/><circle cx="158.5" cy="196.0" r="3.0" fill="rgba(26,158,126,0.8)"/><circle cx="169.9" cy="205.2" r="3.0" fill="rgba(26,158,126,0.8)"/><circle cx="181.8" cy="203.2" r="3.0" fill="rgba(26,158,126,0.8)"/><circle cx="201.4" cy="206.9" r="3.0" fill="rgba(26,158,126,0.8)"/><circle cx="195.5" cy="192.2" r="3.0" fill="rgba(26,158,126,0.8)"/><circle cx="197.7" cy="199.6" r="3.0" fill="rgba(26,158,126,0.8)"/><circle cx="202.6" cy="208.5" r="3.0" fill="rgba(26,158,126,0.8)"/><circle cx="169.0" cy="178.5" r="3.0" fill="rgba(26,158,126,0.8)"/><circle cx="183.1" cy="107.5" r="3.0" fill="rgba(200,35,44,0.78)"/><circle cx="188.9" cy="104.6" r="3.0" fill="rgba(200,35,44,0.78)"/><circle cx="198.3" cy="110.7" r="3.0" fill="rgba(200,35,44,0.78)"/><circle cx="222.5" cy="95.0" r="3.0" fill="rgba(200,35,44,0.78)"/><circle cx="240.5" cy="76.6" r="3.0" fill="rgba(200,35,44,0.78)"/><circle cx="258.4" cy="57.1" r="3.0" fill="rgba(200,35,44,0.78)"/><circle cx="279.6" cy="21.7" r="3.0" fill="rgba(200,35,44,0.78)"/><circle cx="298.3" cy="27.3" r="3.0" fill="rgba(200,35,44,0.78)"/><circle cx="318.1" cy="30.8" r="3.0" fill="rgba(200,35,44,0.78)"/><circle cx="333.9" cy="37.8" r="3.0" fill="rgba(200,35,44,0.78)"/><circle cx="360.1" cy="52.8" r="3.0" fill="rgba(200,35,44,0.78)"/><circle cx="379.9" cy="56.9" r="3.0" fill="rgba(200,35,44,0.78)"/><circle cx="396.6" cy="68.0" r="3.0" fill="rgba(200,35,44,0.78)"/><circle cx="415.3" cy="70.6" r="3.0" fill="rgba(200,35,44,0.78)"/><circle cx="427.2" cy="68.0" r="3.0" fill="rgba(200,35,44,0.78)"/><circle cx="432.8" cy="75.0" r="3.0" fill="rgba(200,35,44,0.78)"/><circle cx="440.6" cy="73.9" r="3.0" fill="rgba(200,35,44,0.78)"/><circle cx="460.1" cy="85.6" r="3.0" fill="rgba(200,35,44,0.78)"/><circle cx="466.2" cy="100.0" r="3.0" fill="rgba(200,35,44,0.78)"/><circle cx="476.0" cy="91.3" r="3.0" fill="rgba(200,35,44,0.78)"/><circle cx="498.5" cy="86.6" r="3.0" fill="rgba(200,35,44,0.78)"/><circle cx="518.6" cy="85.6" r="3.0" fill="rgba(200,35,44,0.78)"/><circle cx="539.4" cy="91.3" r="3.0" fill="rgba(200,35,44,0.78)"/><circle cx="556.1" cy="109.3" r="3.0" fill="rgba(200,35,44,0.78)"/><circle cx="519.3" cy="103.4" r="3.0" fill="rgba(200,35,44,0.78)"/><circle cx="509.9" cy="115.9" r="3.0" fill="rgba(200,35,44,0.78)"/><circle cx="528.0" cy="110.1" r="3.0" fill="rgba(200,35,44,0.78)"/><circle cx="531.0" cy="114.5" r="3.0" fill="rgba(200,35,44,0.78)"/><circle cx="549.6" cy="113.4" r="3.0" fill="rgba(200,35,44,0.78)"/><circle cx="554.9" cy="117.4" r="3.0" fill="rgba(200,35,44,0.78)"/><circle cx="576.5" cy="113.4" r="3.0" fill="rgba(200,35,44,0.78)"/><circle cx="560.7" cy="105.8" r="3.0" fill="rgba(200,35,44,0.78)"/><circle cx="567.6" cy="96.5" r="3.0" fill="rgba(200,35,44,0.78)"/><circle cx="593.3" cy="93.5" r="3.0" fill="rgba(200,35,44,0.78)"/><circle cx="603.0" cy="92.1" r="3.0" fill="rgba(200,35,44,0.78)"/><circle cx="597.4" cy="81.6" r="3.0" fill="rgba(200,35,44,0.78)"/><circle cx="583.9" cy="79.2" r="3.0" fill="rgba(200,35,44,0.78)"/><circle cx="612.8" cy="96.5" r="3.0" fill="rgba(200,35,44,0.78)"/><circle cx="621.9" cy="108.1" r="3.0" fill="rgba(200,35,44,0.78)"/><circle cx="624.8" cy="105.8" r="3.0" fill="rgba(200,35,44,0.78)"/><circle cx="597.4" cy="70.8" r="3.0" fill="rgba(200,35,44,0.78)"/><circle cx="622.3" cy="68.0" r="3.0" fill="rgba(200,35,44,0.78)"/><circle cx="632.5" cy="72.5" r="3.0" fill="rgba(200,35,44,0.78)"/><circle cx="645.0" cy="73.3" r="3.0" fill="rgba(200,35,44,0.78)"/><circle cx="641.6" cy="82.7" r="3.0" fill="rgba(200,35,44,0.78)"/><circle cx="633.6" cy="79.9" r="3.0" fill="rgba(200,35,44,0.78)"/><circle cx="633.6" cy="83.8" r="3.0" fill="rgba(200,35,44,0.78)"/><circle cx="628.0" cy="84.6" r="3.0" fill="rgba(200,35,44,0.78)"/><circle cx="499.7" cy="130.0" r="3.0" fill="rgba(200,35,44,0.78)"/><circle cx="441.9" cy="112.5" r="3.0" fill="rgba(200,35,44,0.78)"/><circle cx="470.5" cy="132.4" r="3.0" fill="rgba(200,35,44,0.78)"/><circle cx="434.0" cy="133.2" r="3.0" fill="rgba(200,35,44,0.78)"/><circle cx="460.8" cy="99.6" r="3.0" fill="rgba(200,35,44,0.78)"/><circle cx="435.1" cy="176.4" r="3.0" fill="rgba(200,35,44,0.78)"/><circle cx="420.8" cy="137.7" r="3.0" fill="rgba(200,35,44,0.78)"/><circle cx="409.1" cy="150.1" r="3.0" fill="rgba(200,35,44,0.78)"/><circle cx="467.6" cy="150.5" r="3.0" fill="rgba(200,35,44,0.78)"/><circle cx="476.2" cy="157.5" r="3.0" fill="rgba(200,35,44,0.78)"/><circle cx="482.2" cy="142.9" r="3.0" fill="rgba(200,35,44,0.78)"/><circle cx="452.2" cy="155.8" r="3.0" fill="rgba(200,35,44,0.78)"/><circle cx="463.2" cy="164.3" r="3.0" fill="rgba(200,35,44,0.78)"/><circle cx="448.1" cy="138.8" r="3.0" fill="rgba(200,35,44,0.78)"/><circle cx="451.9" cy="182.9" r="3.0" fill="rgba(200,35,44,0.78)"/><circle cx="456.4" cy="172.2" r="3.0" fill="rgba(200,35,44,0.78)"/><circle cx="461.5" cy="214.3" r="3.0" fill="rgba(200,35,44,0.78)"/><circle cx="451.3" cy="203.6" r="3.0" fill="rgba(200,35,44,0.78)"/><circle cx="415.9" cy="171.9" r="3.0" fill="rgba(200,35,44,0.78)"/><circle cx="412.9" cy="177.5" r="3.0" fill="rgba(200,35,44,0.78)"/><circle cx="433.4" cy="206.3" r="3.0" fill="rgba(200,35,44,0.78)"/><circle cx="418.2" cy="200.1" r="3.0" fill="rgba(200,35,44,0.78)"/><circle cx="459.8" cy="214.9" r="3.0" fill="rgba(200,35,44,0.78)"/><circle cx="464.3" cy="248.2" r="3.0" fill="rgba(200,35,44,0.78)"/><circle cx="467.1" cy="201.3" r="3.0" fill="rgba(200,35,44,0.78)"/><circle cx="428.9" cy="217.0" r="3.0" fill="rgba(200,35,44,0.78)"/><circle cx="423.2" cy="233.6" r="3.0" fill="rgba(200,35,44,0.78)"/><circle cx="422.7" cy="242.7" r="3.0" fill="rgba(200,35,44,0.78)"/><circle cx="432.9" cy="260.2" r="3.0" fill="rgba(200,35,44,0.78)"/><circle cx="438.9" cy="262.3" r="3.0" fill="rgba(200,35,44,0.78)"/><circle cx="444.8" cy="267.4" r="3.0" fill="rgba(200,35,44,0.78)"/><circle cx="444.2" cy="263.1" r="3.0" fill="rgba(200,35,44,0.78)"/><circle cx="454.9" cy="295.2" r="3.0" fill="rgba(200,35,44,0.78)"/><circle cx="462.3" cy="291.3" r="3.0" fill="rgba(200,35,44,0.78)"/><circle cx="485.4" cy="285.4" r="3.0" fill="rgba(200,35,44,0.78)"/><circle cx="481.5" cy="293.5" r="3.0" fill="rgba(200,35,44,0.78)"/><circle cx="432.9" cy="276.8" r="3.0" fill="rgba(200,35,44,0.78)"/><circle cx="428.9" cy="293.2" r="3.0" fill="rgba(200,35,44,0.78)"/><circle cx="426.4" cy="297.3" r="3.0" fill="rgba(200,35,44,0.78)"/><circle cx="419.9" cy="287.9" r="3.0" fill="rgba(200,35,44,0.78)"/><circle cx="395.6" cy="324.2" r="3.0" fill="rgba(200,35,44,0.78)"/><circle cx="411.4" cy="303.9" r="3.0" fill="rgba(200,35,44,0.78)"/><circle cx="404.6" cy="321.4" r="3.0" fill="rgba(200,35,44,0.78)"/><circle cx="409.7" cy="307.1" r="3.0" fill="rgba(200,35,44,0.78)"/><circle cx="418.4" cy="329.8" r="3.0" fill="rgba(200,35,44,0.78)"/><circle cx="457.8" cy="335.7" r="3.0" fill="rgba(200,35,44,0.78)"/><circle cx="461.4" cy="307.4" r="3.0" fill="rgba(200,35,44,0.78)"/><circle cx="388.2" cy="305.4" r="3.0" fill="rgba(200,35,44,0.78)"/><circle cx="350.1" cy="311.1" r="3.0" fill="rgba(200,35,44,0.78)"/><circle cx="322.9" cy="327.5" r="3.0" fill="rgba(200,35,44,0.78)"/><circle cx="324.0" cy="342.3" r="3.0" fill="rgba(200,35,44,0.78)"/><circle cx="344.3" cy="345.9" r="3.0" fill="rgba(200,35,44,0.78)"/><circle cx="305.9" cy="346.6" r="3.0" fill="rgba(200,35,44,0.78)"/><circle cx="298.0" cy="351.9" r="3.0" fill="rgba(200,35,44,0.78)"/><circle cx="322.9" cy="364.0" r="3.0" fill="rgba(200,35,44,0.78)"/><circle cx="322.3" cy="356.1" r="3.0" fill="rgba(200,35,44,0.78)"/><circle cx="343.2" cy="357.8" r="3.0" fill="rgba(200,35,44,0.78)"/><circle cx="333.4" cy="352.4" r="3.0" fill="rgba(200,35,44,0.78)"/><circle cx="343.0" cy="357.5" r="3.0" fill="rgba(200,35,44,0.78)"/><circle cx="364.6" cy="333.4" r="3.0" fill="rgba(200,35,44,0.78)"/><circle cx="339.6" cy="364.6" r="3.0" fill="rgba(200,35,44,0.78)"/><circle cx="375.2" cy="346.8" r="3.0" fill="rgba(200,35,44,0.78)"/><circle cx="383.1" cy="347.3" r="3.0" fill="rgba(200,35,44,0.78)"/><circle cx="365.1" cy="333.1" r="3.0" fill="rgba(200,35,44,0.78)"/><circle cx="381.2" cy="338.2" r="3.0" fill="rgba(200,35,44,0.78)"/><circle cx="380.9" cy="338.2" r="3.0" fill="rgba(200,35,44,0.78)"/><circle cx="395.1" cy="336.7" r="3.0" fill="rgba(200,35,44,0.78)"/><circle cx="375.2" cy="347.2" r="3.0" fill="rgba(200,35,44,0.78)"/><circle cx="395.0" cy="336.5" r="3.0" fill="rgba(200,35,44,0.78)"/><circle cx="417.6" cy="330.3" r="3.0" fill="rgba(200,35,44,0.78)"/><circle cx="342.9" cy="398.3" r="3.0" fill="rgba(200,35,44,0.78)"/><circle cx="339.7" cy="402.9" r="3.0" fill="rgba(200,35,44,0.78)"/><circle cx="359.5" cy="400.8" r="3.0" fill="rgba(200,35,44,0.78)"/><circle cx="349.3" cy="400.8" r="3.0" fill="rgba(200,35,44,0.78)"/><circle cx="371.1" cy="390.4" r="3.0" fill="rgba(200,35,44,0.78)"/><circle cx="359.5" cy="400.8" r="3.0" fill="rgba(200,35,44,0.78)"/><circle cx="350.4" cy="405.3" r="3.0" fill="rgba(200,35,44,0.78)"/><circle cx="377.5" cy="400.8" r="3.0" fill="rgba(200,35,44,0.78)"/><circle cx="383.4" cy="400.3" r="3.0" fill="rgba(200,35,44,0.78)"/><circle cx="403.2" cy="370.0" r="3.0" fill="rgba(200,35,44,0.78)"/><circle cx="400.4" cy="380.8" r="3.0" fill="rgba(200,35,44,0.78)"/><circle cx="412.8" cy="391.0" r="3.0" fill="rgba(200,35,44,0.78)"/><circle cx="403.2" cy="416.6" r="3.0" fill="rgba(200,35,44,0.78)"/><circle cx="411.6" cy="425.5" r="3.0" fill="rgba(200,35,44,0.78)"/><circle cx="421.6" cy="417.8" r="3.0" fill="rgba(200,35,44,0.78)"/><circle cx="417.0" cy="364.2" r="3.0" fill="rgba(200,35,44,0.78)"/><circle cx="414.0" cy="374.5" r="3.0" fill="rgba(200,35,44,0.78)"/><circle cx="429.2" cy="354.2" r="3.0" fill="rgba(200,35,44,0.78)"/><circle cx="450.8" cy="348.9" r="3.0" fill="rgba(200,35,44,0.78)"/><circle cx="457.5" cy="335.1" r="3.0" fill="rgba(200,35,44,0.78)"/><circle cx="464.3" cy="340.4" r="3.0" fill="rgba(200,35,44,0.78)"/><circle cx="473.3" cy="344.7" r="3.0" fill="rgba(200,35,44,0.78)"/><circle cx="473.3" cy="344.7" r="3.0" fill="rgba(200,35,44,0.78)"/><circle cx="468.2" cy="365.0" r="3.0" fill="rgba(200,35,44,0.78)"/><circle cx="462.0" cy="361.6" r="3.0" fill="rgba(200,35,44,0.78)"/><circle cx="468.2" cy="365.0" r="3.0" fill="rgba(200,35,44,0.78)"/><circle cx="480.1" cy="370.1" r="3.0" fill="rgba(200,35,44,0.78)"/><circle cx="488.5" cy="346.9" r="3.0" fill="rgba(200,35,44,0.78)"/><circle cx="500.7" cy="350.7" r="3.0" fill="rgba(200,35,44,0.78)"/><circle cx="496.5" cy="357.7" r="3.0" fill="rgba(200,35,44,0.78)"/><circle cx="454.7" cy="381.7" r="3.0" fill="rgba(200,35,44,0.78)"/><circle cx="456.9" cy="367.3" r="3.0" fill="rgba(200,35,44,0.78)"/><circle cx="465.4" cy="378.0" r="3.0" fill="rgba(200,35,44,0.78)"/><circle cx="454.9" cy="382.0" r="3.0" fill="rgba(200,35,44,0.78)"/><circle cx="450.9" cy="394.1" r="3.0" fill="rgba(200,35,44,0.78)"/><circle cx="445.8" cy="410.3" r="3.0" fill="rgba(200,35,44,0.78)"/><circle cx="453.2" cy="407.1" r="3.0" fill="rgba(200,35,44,0.78)"/><circle cx="453.0" cy="417.5" r="3.0" fill="rgba(200,35,44,0.78)"/><circle cx="452.0" cy="427.5" r="3.0" fill="rgba(200,35,44,0.78)"/><circle cx="443.3" cy="421.6" r="3.0" fill="rgba(200,35,44,0.78)"/></g>
<line x1="53.4" y1="0" x2="53.4" y2="463.2" stroke="#222" stroke-width="1.6"/>
<line x1="52.6" y1="462.8" x2="685" y2="462.8" stroke="#222" stroke-width="1.6"/>
<text class="tk" transform="translate(48.3,59) scale(1.0,1.08)" text-anchor="end">0.2</text><text class="tk" transform="translate(48.3,233.5) scale(1.0,1.08)" text-anchor="end">0.0</text><text class="tk" transform="translate(48.3,408.1) scale(1.0,1.08)" text-anchor="end">−0.2</text><text class="tk" transform="translate(199.3,479.1) scale(1.0,1.08)" text-anchor="middle">−0.2</text><text class="tk" transform="translate(374.3,479.1) scale(1.0,1.08)" text-anchor="middle">0.0</text><text class="tk" transform="translate(549.3,479.1) scale(1.0,1.08)" text-anchor="middle">0.2</text><text class="tt" transform="translate(369.2,496.6) scale(1.02,1.11)" text-anchor="middle">PCo1 [28.2%]</text><text class="tt" transform="translate(13.2,229.9) rotate(-90) scale(1.02,1.11)" text-anchor="middle">PCo2 [18.3%]</text><line x1="107.9" y1="524" x2="121.9" y2="524" stroke="#262626" stroke-width="1.3"/><circle cx="114.9" cy="524" r="3.0" fill="rgba(0,0,0,0.8)"/><text class="lg" transform="translate(128.9,530.0) scale(1.035,1.09)" text-anchor="start">Real</text><line x1="167.4" y1="524" x2="181.4" y2="524" stroke="#c82f36" stroke-width="1.3"/><circle cx="174.4" cy="524" r="3.0" fill="rgba(200,35,44,0.78)"/><text class="lg" transform="translate(189.3,530.0) scale(1.022,1.09)" text-anchor="start">Prediction − Train</text><line x1="317.0" y1="524" x2="331.0" y2="524" stroke="#e3ad1c" stroke-width="1.3"/><circle cx="324.0" cy="524" r="3.0" fill="rgba(227,173,28,0.85)"/><text class="lg" transform="translate(338.9,530.0) scale(1.02,1.09)" text-anchor="start">Prediction − Validation</text><line x1="500.2" y1="524" x2="514.2" y2="524" stroke="#1a9e7e" stroke-width="1.3"/><circle cx="507.2" cy="524" r="3.0" fill="rgba(26,158,126,0.8)"/><text class="lg" transform="translate(521.2,530.0) scale(1.045,1.09)" text-anchor="start">Prediction − Test</text>
</svg>
</body></html>
